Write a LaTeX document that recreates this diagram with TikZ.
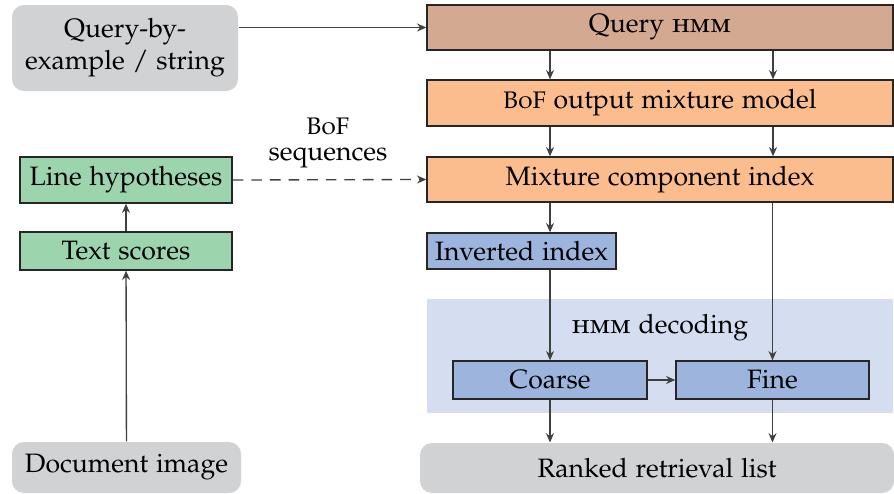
\documentclass[tikz,border=0pt]{standalone}
\usepackage[T1]{fontenc}
\usepackage[sc]{mathpazo}
\usetikzlibrary{arrows.meta}
\definecolor{qgray}{HTML}{D1D2D4}
\definecolor{qbrown}{HTML}{D4A992}
\definecolor{qorange}{HTML}{FBBD8D}
\definecolor{qgreen}{HTML}{9CD4AE}
\definecolor{qblue}{HTML}{9DB4DD}
\definecolor{qregion}{HTML}{D5DEF0}
\definecolor{qline}{HTML}{404040}
\newcommand{\bofsc}{{\small\textsc{BoF}}}
\tikzset{
  base/.style={inner sep=0pt, align=center, font=\fontsize{10}{12}\selectfont},
  term/.style={base, fill=qgray, rounded corners=4.5pt},
  box/.style={base, draw=black!85, line width=0.5pt},
  conn/.style={draw=qline, line width=0.5pt, -{Stealth[length=3.5pt,width=3pt]}},
  sz/.style 2 args={minimum width=#1*0.376pt, minimum height=#2*0.376pt},
}
\begin{document}
\begin{tikzpicture}[x=0.376pt,y=-0.376pt]
\useasboundingbox (0,0) rectangle (894,493);
% region
\fill[qregion] (427,299) rectangle (893,413);
\node[base] (hmmlbl) at (660,328) {\textsc{hmm} decoding};
% left column
\node[term, sz={226}{86}] (qbe) at (125,48) {Query-by-\\example / string};
\node[box, fill=qgreen, sz={212}{46}] (lh) at (126,180) {Line hypotheses};
\node[box, fill=qgreen, sz={212}{38}] (ts) at (126,251) {Text scores};
\node[term, sz={229}{51}] (doc) at (126.5,467.5) {Document image};
% right column
\node[box, fill=qbrown, sz={466}{45}] (qh) at (660,27.5) {Query \textsc{hmm}};
\node[box, fill=qorange, sz={466}{46}] (bof) at (660,103) {\bofsc{} output mixture model};
\node[box, fill=qorange, sz={466}{45}] (mci) at (660,179.5) {Mixture component index};
\node[box, fill=qblue, sz={189}{36}] (inv) at (521.5,251) {Inverted index};
\node[box, fill=qblue, sz={194}{38}] (coarse) at (550,380) {Coarse};
\node[box, fill=qblue, sz={193}{38}] (fine) at (772.5,380) {Fine};
\node[term, sz={474}{50}] (rank) at (657,468) {Ranked retrieval list};
% label
\node[base, font=\fontsize{10}{10}\selectfont] (seq) at (328,143) {\bofsc\\sequences};
% connectors
\draw[conn] (qbe.east |- qh) -- (qh.west);
\draw[conn, dashed, dash pattern=on 4pt off 3pt] (lh.east) -- (mci.west);
\draw[conn] (ts) -- (lh);
\draw[conn] (doc) -- (ts);
\draw[conn] ([xshift=-110*0.376pt]qh.south) -- ([xshift=-110*0.376pt]bof.north);
\draw[conn] ([xshift=113*0.376pt]qh.south) -- ([xshift=113*0.376pt]bof.north);
\draw[conn] ([xshift=-110*0.376pt]bof.south) -- ([xshift=-110*0.376pt]mci.north);
\draw[conn] ([xshift=113*0.376pt]bof.south) -- ([xshift=113*0.376pt]mci.north);
\draw[conn] (mci.south -| coarse) -- (inv.north -| coarse);
\draw[conn] (inv.south -| coarse) -- (coarse.north);
\draw[conn] (mci.south -| fine) -- (fine.north);
\draw[conn] (coarse.east) -- (fine.west);
\draw[conn] (coarse.south) -- (coarse.south |- rank.north);
\draw[conn] (fine.south) -- (fine.south |- rank.north);
\end{tikzpicture}
\end{document}
